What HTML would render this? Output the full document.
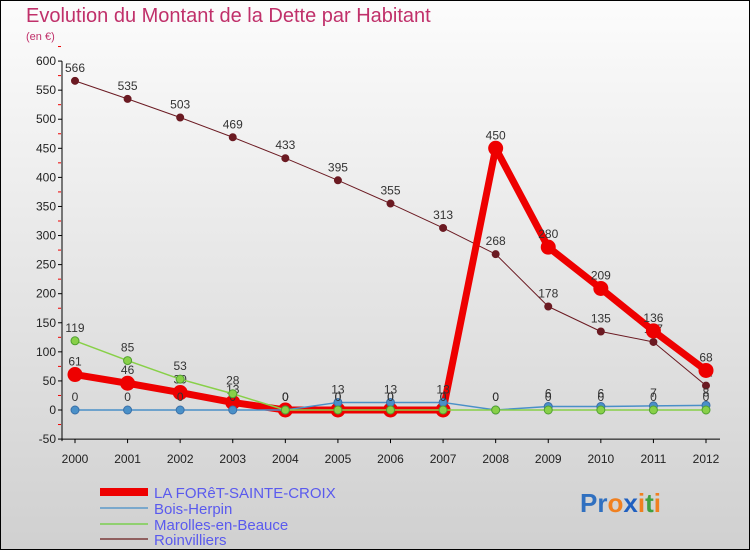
<!DOCTYPE html>
<html><head><meta charset="utf-8"><style>
body{margin:0;width:750px;height:550px;overflow:hidden;font-family:"Liberation Sans",sans-serif}
svg{display:block}
</style></head><body>
<svg width="750" height="550" xmlns="http://www.w3.org/2000/svg">
<defs><linearGradient id="bg" x1="0" y1="0" x2="0" y2="1"><stop offset="0" stop-color="#fcfcfc"/><stop offset="1" stop-color="#d0d0d0"/></linearGradient></defs>
<rect x="0.5" y="0.5" width="749" height="549" fill="url(#bg)" stroke="#000"/>
<text x="26" y="22" font-size="20" fill="#c0306a">Evolution du Montant de la Dette par Habitant</text>
<text x="26" y="40" font-size="11" fill="#c0306a">(en €)</text>
<g id="axes"></g>
<g id="series"></g>
<g font-size="15" fill="#5a5aee">
<rect x="100" y="488" width="48" height="8" fill="#e00"/>
<text x="154" y="498">LA FORêT-SAINTE-CROIX</text>
<line x1="100" y1="508" x2="148" y2="508" stroke="#7aa8cc" stroke-width="2"/>
<text x="154" y="514">Bois-Herpin</text>
<line x1="100" y1="524" x2="148" y2="524" stroke="#90d070" stroke-width="2"/>
<text x="154" y="530">Marolles-en-Beauce</text>
<line x1="100" y1="539" x2="148" y2="539" stroke="#906060" stroke-width="2"/>
<text x="154" y="545">Roinvilliers</text>
</g>
<text x="580" y="512" font-size="26" font-weight="bold"><tspan fill="#3070c0">Pr</tspan><tspan fill="#f08020">o</tspan><tspan fill="#2060c0">x</tspan><tspan fill="#f08020">i</tspan><tspan fill="#40a040">t</tspan><tspan fill="#f08020">i</tspan></text>
</svg>
<script>
const years=[2000,2001,2002,2003,2004,2005,2006,2007,2008,2009,2010,2011,2012];
const yTicks=[-50,0,50,100,150,200,250,300,350,400,450,500,550,600];
const forest=[61,46,30,13,0,0,0,0,450,280,209,136,68];
const bois=[0,0,0,0,0,13,13,13,0,6,6,7,8];
const marolles=[119,85,53,28,0,0,0,0,0,0,0,0,0];
const roinvilliers=[566,535,503,469,433,395,355,313,268,178,135,117,42];
const NS="http://www.w3.org/2000/svg";
const X=i=>75+i*(706-75)/(years.length-1);
const Y=v=>410-v*(378/650);
function mk(t,a,p){const e=document.createElementNS(NS,t);for(const k in a)e.setAttribute(k,a[k]);p.appendChild(e);return e;}
const ax=document.getElementById('axes');
const yl=mk('line',{x1:62,y1:Y(600),x2:62,y2:Y(-50)+2,stroke:'#000'},ax);


const xl=mk('line',{x1:62,y1:Y(-50),x2:720,y2:Y(-50),stroke:'#000'},ax);


yTicks.forEach(v=>{
 mk('line',{x1:58,y1:Y(v),x2:62,y2:Y(v),stroke:'#000'},ax);
 mk('line',{x1:58,y1:Y(v+25),x2:61,y2:Y(v+25),stroke:'#e00'},ax);
 const t=mk('text',{x:56,y:Y(v)+4,'font-size':12,'text-anchor':'end',fill:'#222'},ax);
 t.textContent=v;
 
 
});
years.forEach((yr,i)=>{
 mk('line',{x1:X(i),y1:Y(-50),x2:X(i),y2:Y(-50)+4,stroke:'#000'},ax);
 const t=mk('text',{x:X(i),y:Y(-50)+24,'font-size':12,'text-anchor':'middle',fill:'#222'},ax);
 t.textContent=yr;
 
 
});
const sg=document.getElementById('series');
function series(name,vals,color,w,r,stroke){
 const g=mk('g',{},sg);
 
 
 const pl=mk('polyline',{points:vals.map((v,i)=>X(i)+','+Y(v)).join(' '),fill:'none',stroke:color,'stroke-width':w,'stroke-linejoin':'round'},g);
 
 
 vals.forEach((v,i)=>{
  const c=mk('circle',{cx:X(i),cy:Y(v),r:r,fill:color,stroke:stroke,'stroke-width':1},g);
  
  
  const t=mk('text',{x:X(i),y:Y(v)-9,'font-size':12,'text-anchor':'middle',fill:'#333'},g);
  t.textContent=v;
  
  
 });
}
series('roinvilliers',roinvilliers,'#6b1a22',1,3.5,'#6b1a22');
series('forest',forest,'#ee0000',7,7,'#ee0000');
series('bois',bois,'#4a90c8',1.5,4,'#3a70a8');
series('marolles',marolles,'#88d048',1.5,4,'#50a030');
</script>
</body></html>
